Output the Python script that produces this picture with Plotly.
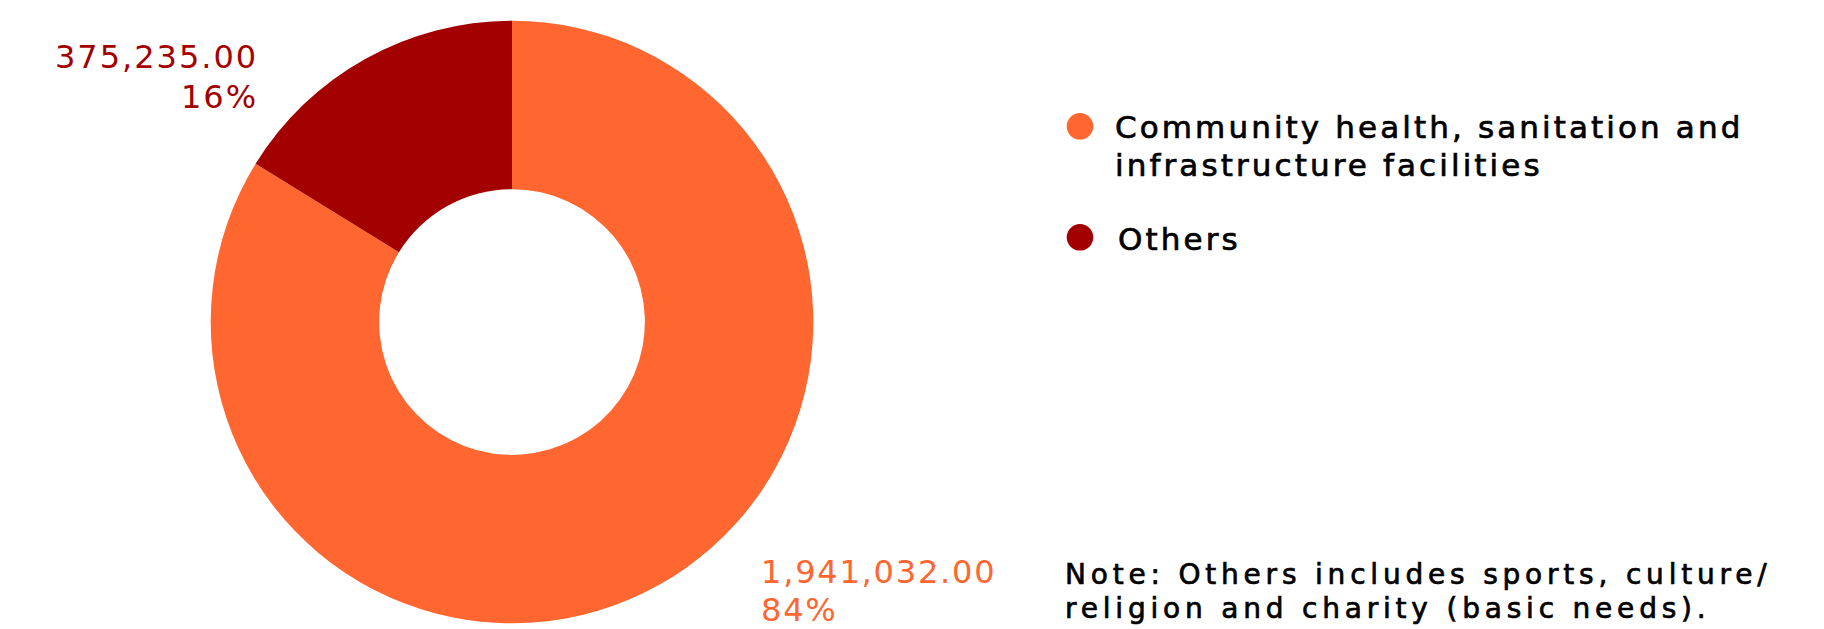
import plotly.graph_objects as go

# Spending by programme area
categories = ["Community health, sanitation and infrastructure facilities", "Others"]
legend_lines = [["Community health, sanitation and", "infrastructure facilities"], ["Others"]]
amounts = [1941032.00, 375235.00]
colors = ["#FF6630", "#A30000"]
note_lines = ["Note: Others includes sports, culture/", "religion and charity (basic needs)."]

W, H = 1824, 629


def px(x):
    return x / W


def py(y):
    return 1 - y / H


total = sum(amounts)
value_text = [f"{v:,.2f}" for v in amounts]
pct_text = [f"{round(100 * v / total)}%" for v in amounts]

fig = go.Figure(
    go.Pie(
        labels=categories,
        values=amounts,
        hole=0.441,
        sort=False,
        direction="clockwise",
        rotation=0,
        marker=dict(colors=colors, line=dict(width=0)),
        textinfo="none",
        hovertemplate="%{label}<br>%{value:,.2f}<br>%{percent}<extra></extra>",
        showlegend=False,
        domain=dict(x=[px(210.7), px(813.3)], y=[py(623.3), py(20.7)]),
    )
)

annotations = []
text_css = {}

TEXT_FONT = "DejaVu Sans"


def add_text(text, x, y, size, color, xanchor, spacing, stroke=0):
    rule = f"letter-spacing:{spacing}px;"
    if stroke:
        rule += f"stroke:{color};stroke-width:{stroke}px;"
    text_css[len(annotations)] = rule
    annotations.append(dict(
        text=text, x=px(x), y=py(y), xref="paper", yref="paper",
        xanchor=xanchor, yanchor="middle", align=xanchor, showarrow=False,
        borderpad=0, borderwidth=0,
        font=dict(family=TEXT_FONT, size=size, color=color),
    ))


# slice value / share labels
add_text(value_text[1], 257.5, 57.0, 32, colors[1], "right", 2.0)
add_text(pct_text[1], 257.5, 96.6, 32, colors[1], "right", 2.0)
add_text(value_text[0], 761, 572.0, 32, colors[0], "left", 1.8)
add_text(pct_text[0], 761, 609.5, 32, colors[0], "left", 1.8)

# legend: round swatches plus wrapped item names
shapes = []
legend_rows = [(126.3, [127.3, 165.3], 1115), (237.3, [239.3], 1118)]
for (cy, text_ys, tx), lines, col in zip(legend_rows, legend_lines, colors):
    shapes.append(dict(
        type="circle", xref="paper", yref="paper",
        xsizemode="pixel", ysizemode="pixel",
        xanchor=px(1080), yanchor=py(cy),
        x0=-13.3, x1=13.3, y0=-13.3, y1=13.3,
        fillcolor=col, line=dict(width=0),
    ))
    for line, ty in zip(lines, text_ys):
        add_text(line, tx, ty, 31, "#000000", "left", 3.1, stroke=0.7)

# footnote
for line, ty in zip(note_lines, [574.6, 608.6]):
    add_text(line, 1064.5, ty, 28, "#000000", "left", 4.8, stroke=0.7)

fig.update_layout(
    width=W,
    height=H,
    margin=dict(l=0, r=0, t=0, b=0),
    paper_bgcolor="#ffffff",
    plot_bgcolor="#ffffff",
    annotations=annotations,
    shapes=shapes,
)

css = "".join(
    f'.annotation[data-index="{i}"] .annotation-text{{{rule}}}'
    for i, rule in text_css.items()
)
post_script = (
    "var st=document.createElement('style');"
    f"st.textContent='{css}';"
    "document.head.appendChild(st);"
)

fig.write_html("out.html", post_script=post_script)
